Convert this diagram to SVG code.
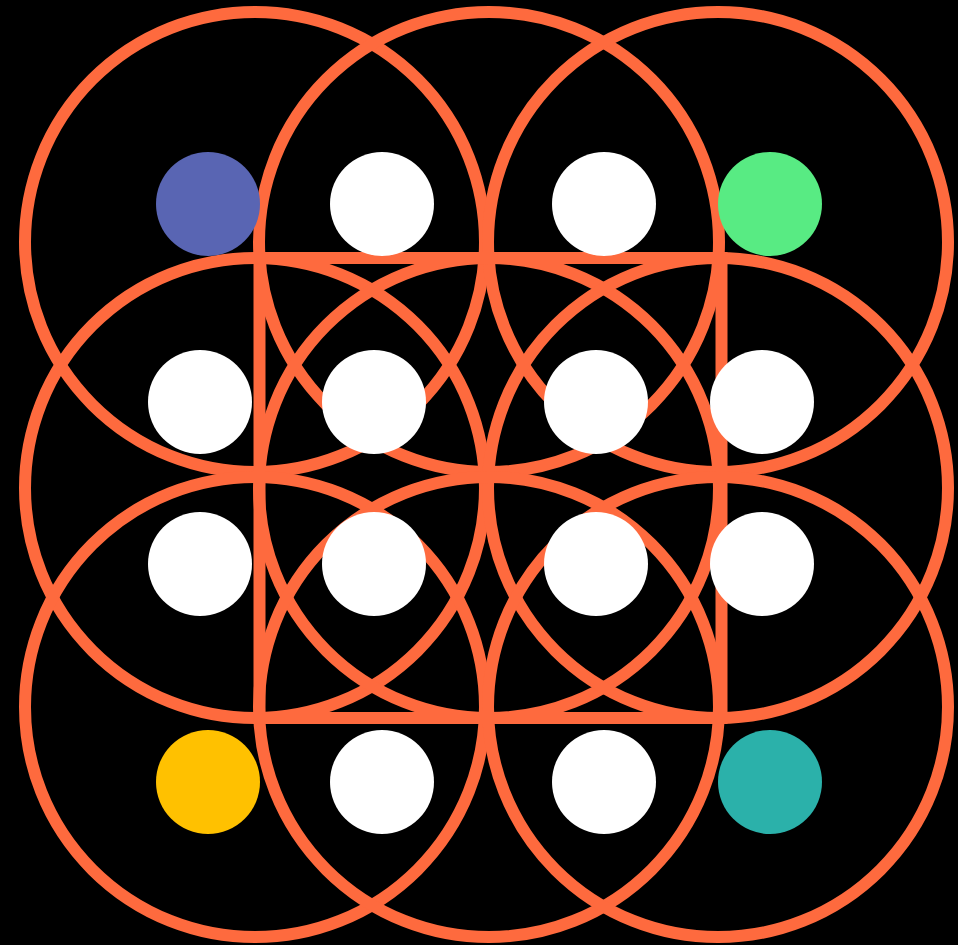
<svg xmlns="http://www.w3.org/2000/svg" width="958" height="945" viewBox="0 0 958 945">
<style>
.ring{fill:none;stroke:#fe6a3e;stroke-width:12}
.dot{stroke:none}
.w{fill:#ffffff}
</style>
<rect x="0" y="0" width="958" height="945" fill="#000000"/>
<g id="rings">
<circle class="ring" cx="255" cy="242" r="230"/>
<circle class="ring" cx="489" cy="242" r="230"/>
<circle class="ring" cx="718" cy="242" r="230"/>
<circle class="ring" cx="255" cy="488" r="230"/>
<circle class="ring" cx="489" cy="488" r="230"/>
<circle class="ring" cx="718" cy="488" r="230"/>
<circle class="ring" cx="255" cy="707" r="230"/>
<circle class="ring" cx="489" cy="707" r="230"/>
<circle class="ring" cx="718" cy="707" r="230"/>
<rect class="ring" x="259.5" y="258" width="462" height="460"/>
</g>
<g id="connectors"></g>
<g id="n1"><circle class="dot" cx="208" cy="204" r="52" fill="#5965b3"/></g>
<g id="n2"><circle class="dot w" cx="382" cy="204" r="52"/></g>
<g id="n3"><circle class="dot w" cx="604" cy="204" r="52"/></g>
<g id="n4"><circle class="dot" cx="770" cy="204" r="52" fill="#58eb83"/></g>
<g id="n5"><circle class="dot w" cx="200" cy="402" r="52"/></g>
<g id="n6"><circle class="dot w" cx="374" cy="402" r="52"/></g>
<g id="n7"><circle class="dot w" cx="596" cy="402" r="52"/></g>
<g id="n8"><circle class="dot w" cx="762" cy="402" r="52"/></g>
<g id="n9"><circle class="dot w" cx="200" cy="564" r="52"/></g>
<g id="n10"><circle class="dot w" cx="374" cy="564" r="52"/></g>
<g id="n11"><circle class="dot w" cx="596" cy="564" r="52"/></g>
<g id="n12"><circle class="dot w" cx="762" cy="564" r="52"/></g>
<g id="n13"><circle class="dot" cx="208" cy="782" r="52" fill="#ffc100"/></g>
<g id="n14"><circle class="dot w" cx="382" cy="782" r="52"/></g>
<g id="n15"><circle class="dot w" cx="604" cy="782" r="52"/></g>
<g id="n16"><circle class="dot" cx="770" cy="782" r="52" fill="#2bb1aa"/></g>
</svg>
